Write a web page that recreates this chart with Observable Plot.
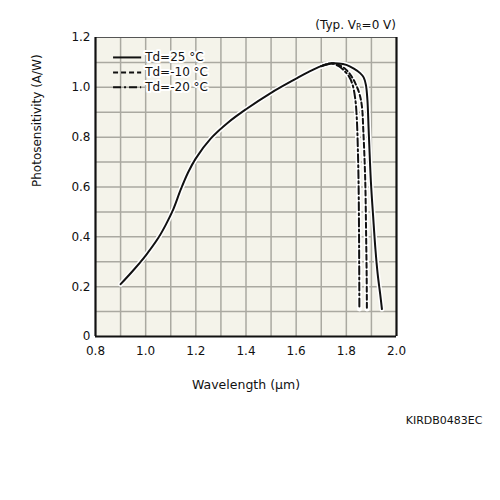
<!DOCTYPE html>
<html>
<head>
<meta charset="utf-8">
<script src="https://cdn.jsdelivr.net/npm/d3@7"></script>
<script src="https://cdn.jsdelivr.net/npm/@observablehq/plot@0.6"></script>
<style>
  html, body { margin: 0; padding: 0; background: white; }
</style>
</head>
<body>
<div id="chart"></div>
<script>
// Spectral response at three temperatures (Typ. VR = 0 V)
const wavelength25 = [0.90, 0.95, 1.00, 1.05, 1.08, 1.11, 1.14, 1.17, 1.20, 1.26, 1.33, 1.40, 1.50, 1.60, 1.65, 1.70, 1.74, 1.77, 1.80, 1.83, 1.855, 1.869, 1.878, 1.884, 1.889, 1.898, 1.907, 1.916, 1.925, 1.935, 1.942];
const sensitivity25 = [0.21, 0.265, 0.325, 0.395, 0.448, 0.51, 0.59, 0.66, 0.715, 0.795, 0.86, 0.912, 0.978, 1.035, 1.062, 1.085, 1.096, 1.096, 1.09, 1.075, 1.057, 1.04, 1.01, 0.95, 0.83, 0.62, 0.48, 0.35, 0.25, 0.17, 0.11];

const wavelengthM10 = [1.70, 1.74, 1.77, 1.80, 1.82, 1.836, 1.852, 1.862, 1.868, 1.873, 1.876, 1.879, 1.881, 1.882];
const sensitivityM10 = [1.085, 1.097, 1.09, 1.07, 1.045, 1.016, 0.975, 0.925, 0.82, 0.70, 0.60, 0.40, 0.25, 0.11];

const wavelengthM20 = [1.70, 1.74, 1.77, 1.79, 1.81, 1.825, 1.836, 1.842, 1.846, 1.849, 1.851, 1.852];
const sensitivityM20 = [1.085, 1.096, 1.085, 1.068, 1.045, 1.01, 0.95, 0.87, 0.75, 0.60, 0.35, 0.11];

const seriesNames = ["Td=25 °C", "Td=-10 °C", "Td=-20 °C"];
const seriesDash = ["none", "5,3", "8,3,2,3"];

const xTicks = [0.8, 1.0, 1.2, 1.4, 1.6, 1.8, 2.0];
const yTicks = [0, 0.2, 0.4, 0.6, 0.8, 1.0, 1.2];
const xGrid = [0.9, 1.0, 1.1, 1.2, 1.3, 1.4, 1.5, 1.6, 1.7, 1.8, 1.9];
const yGrid = [0.1, 0.2, 0.3, 0.4, 0.5, 0.6, 0.7, 0.8, 0.9, 1.0, 1.1];

const toRows = (xs, ys, name) => xs.map((x, i) => ({x, y: ys[i], name}));
const curves = [
  toRows(wavelength25, sensitivity25, seriesNames[0]),
  toRows(wavelengthM10, sensitivityM10, seriesNames[1]),
  toRows(wavelengthM20, sensitivityM20, seriesNames[2])
];

// legend rows in the upper-left corner of the plot
const legendY = [1.12, 1.06, 1.0];
const legendRows = seriesNames.map((name, i) => ({name, y: legendY[i]}));

const ink = "#111";

const chart = Plot.plot({
  width: 500,
  height: 500,
  marginLeft: 95,
  marginRight: 104,
  marginTop: 37,
  marginBottom: 164,
  style: {fontFamily: "DejaVu Sans", fontSize: "12px", background: "white", color: ink},
  x: {domain: [0.8, 2.0]},
  y: {domain: [0, 1.2]},
  marks: [
    Plot.frame({fill: "#f4f3ea", stroke: "none"}),
    Plot.gridX(xGrid, {stroke: "#aaa9a1", strokeOpacity: 1, strokeWidth: 1.5}),
    Plot.gridY(yGrid, {stroke: "#aaa9a1", strokeOpacity: 1, strokeWidth: 1.5}),
    Plot.ruleY([1.2], {stroke: "#555", strokeWidth: 1.2}),
    Plot.ruleX([0.8, 2.0], {stroke: ink, strokeWidth: 2.2}),
    Plot.ruleY([0], {stroke: ink, strokeWidth: 2.2}),
    Plot.axisX({ticks: xTicks, tickSize: 0, tickPadding: 10, tickFormat: d => d.toFixed(1), label: null, fontSize: 12}),
    Plot.axisY({ticks: yTicks, tickSize: 0, tickPadding: 5, tickFormat: d => d === 0 ? "0" : d.toFixed(1), label: null, fontSize: 12}),
    // white halo under each curve, then the curves themselves
    ...curves.map(rows => Plot.line(rows, {x: "x", y: "y", stroke: "white", strokeWidth: 5, curve: "catmull-rom"})),
    ...curves.map((rows, i) => Plot.line(rows, {x: "x", y: "y", stroke: ink, strokeWidth: 2, strokeDasharray: seriesDash[i], curve: "catmull-rom"})),
    // legend samples and labels
    ...legendRows.map((row, i) => Plot.ruleY([row], {y: "y", x1: 0.872, x2: 0.984, stroke: ink, strokeWidth: 2, strokeDasharray: seriesDash[i]})),
    Plot.text(legendRows, {x: 0.998, y: "y", text: "name", textAnchor: "start", fontSize: 12, fill: ink, stroke: "#fff", strokeWidth: 4}),
    // axis titles and caption
    Plot.text(["Photosensitivity (A/W)"], {frameAnchor: "left", dx: -58, rotate: -90, fontSize: 12, fill: ink}),
    Plot.text(["Wavelength (μm)"], {frameAnchor: "bottom", dy: 52, fontSize: 12.5, fill: ink}),
    Plot.text(["KIRDB0483EC"], {frameAnchor: "bottom-right", dx: 86, dy: 87, textAnchor: "end", fontSize: 11, fill: ink})
  ]
});

// measurement condition, with the subscript R on V
const note = d3.select(chart).append("text")
  .attr("x", 396).attr("y", 29)
  .attr("text-anchor", "end")
  .attr("font-size", 12)
  .attr("fill", ink);
note.append("tspan").text("(Typ. V");
note.append("tspan").attr("font-size", 8).attr("dy", 1).text("R");
note.append("tspan").attr("dy", -1).text("=0 V)");

document.getElementById("chart").append(chart);
</script>
</body>
</html>
